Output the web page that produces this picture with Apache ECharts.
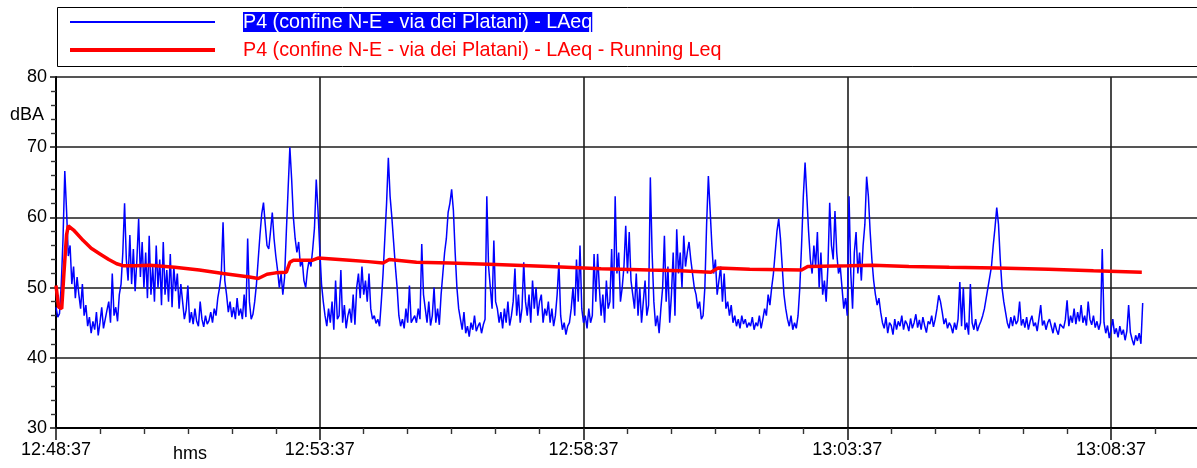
<!DOCTYPE html>
<html>
<head>
<meta charset="utf-8">
<script src="https://cdn.jsdelivr.net/npm/echarts@6/dist/echarts.min.js"></script>
<style>
  html, body { margin: 0; padding: 0; background: #fff; }
  #chart { width: 1197px; height: 468px; }
</style>
</head>
<body>
<div id="chart"></div>
<script>
// Sound level survey, point P4 — start time and sampling step of the LAeq record
const START_CLOCK = [12, 48, 37];
const STEP_SECONDS = 2;

// Short LAeq, dBA, one value every 2 s starting at 12:48:37
const laeq = [
  47.2, 45.8, 46.3, 50.5, 57.0, 66.6, 61.0, 54.5, 56.0, 50.5,
  53.0, 48.5, 51.5, 49.0, 47.0, 50.5, 46.0, 47.5, 44.5, 45.8,
  43.5, 45.2, 44.0, 46.5, 43.2, 45.0, 47.2, 44.2, 45.5, 46.8,
  48.0, 45.0, 52.0, 46.0, 47.2, 45.2, 49.0, 50.5, 55.0, 62.0,
  54.0, 51.0, 57.5, 50.5, 55.5, 49.5, 54.0, 59.8, 51.5, 56.5,
  50.0, 55.0, 48.5, 57.4, 49.0, 53.0, 48.0, 56.0, 50.0, 54.0,
  47.5, 56.5, 49.0, 52.5, 48.0, 54.8, 47.2, 53.0, 49.5, 52.0,
  47.0, 50.5, 48.0, 45.5, 46.8, 50.3, 45.0, 46.5, 44.8, 47.0,
  45.2, 44.5, 48.0, 45.5, 44.4, 46.0, 44.8, 45.3, 46.5, 45.0,
  47.0, 46.0, 48.5, 50.0, 52.0, 59.3, 51.0, 49.0, 46.5, 48.0,
  45.8, 47.2, 45.5, 48.5, 46.0, 47.0, 45.5, 49.0, 45.8, 57.0,
  48.0, 45.5, 46.2, 48.0, 50.5, 54.0, 57.5, 60.5, 62.1, 59.0,
  56.0, 55.5, 58.0, 60.7, 57.0, 54.5, 52.5, 50.0, 52.0, 49.0,
  51.5, 58.0, 64.0, 70.0, 65.5, 60.0, 57.0, 55.0, 56.5, 53.0,
  54.0, 51.0, 50.0, 52.5, 54.0, 53.0, 55.5, 58.5, 65.4, 61.0,
  55.5, 50.5, 48.0, 46.0, 44.5, 47.0, 45.0, 48.0, 44.0, 51.0,
  45.5, 46.0, 52.5, 45.0, 47.5, 44.2, 46.0, 47.0, 45.0, 49.0,
  44.7, 50.0, 52.0, 48.5, 53.0, 49.0, 51.0, 48.0, 52.0, 47.0,
  45.5, 46.0, 44.9, 45.5, 44.5, 48.0, 52.0, 57.0, 62.0, 68.5,
  63.0, 60.0, 56.5, 53.0, 50.0, 46.0, 44.5, 45.5, 44.2, 47.0,
  45.0, 50.3, 45.0, 44.8, 46.0, 45.0, 47.0, 45.5, 56.2, 49.0,
  47.0, 45.0, 48.0, 44.6, 46.0, 50.0, 45.0, 47.0, 44.7, 49.0,
  52.0, 55.0, 57.0, 60.7, 62.0, 64.0, 61.0, 55.0, 50.0, 47.0,
  45.5, 44.0, 46.5, 43.5, 44.5, 43.0, 45.0, 44.0, 46.0, 43.8,
  44.5, 45.0, 43.5, 44.7, 45.5, 63.0, 53.0, 50.0, 47.0, 56.7,
  48.0, 47.0, 45.0, 46.5, 44.2, 47.0, 45.0, 48.0, 44.6, 46.0,
  48.0, 52.7, 46.0, 49.0, 45.0, 47.0, 53.6, 48.0, 46.0, 49.0,
  45.0, 51.0, 47.0, 50.0, 46.0, 48.0, 49.0, 45.0, 47.0, 46.0,
  48.0, 45.0, 47.0, 44.5, 46.0, 49.0, 53.6, 46.0, 44.0, 45.0,
  43.3, 44.5, 45.0, 47.0, 50.0, 46.0, 54.0, 48.0, 56.0, 47.0,
  45.0, 46.0, 44.2, 47.0, 45.0, 46.0, 54.8, 48.0, 54.8, 50.0,
  46.0, 49.0, 45.0, 51.0, 47.0, 48.0, 55.5, 47.0, 63.0, 52.0,
  55.0, 48.0, 50.0, 53.0, 58.8, 52.0, 57.9, 51.0, 49.0, 47.0,
  52.0, 46.0, 50.0, 45.0, 48.0, 51.0, 46.0, 47.5, 65.7, 55.0,
  48.0, 44.5, 46.0, 43.5, 47.0, 50.0, 57.4, 48.0, 53.0, 45.0,
  49.0, 55.0, 46.0, 58.3, 52.0, 55.0, 50.0, 57.4, 53.0, 55.0,
  56.5, 54.0, 52.0, 50.0, 49.0, 47.0, 48.0, 45.5, 46.0, 50.0,
  59.0, 65.9, 61.0, 56.0, 52.0, 54.0, 49.0, 51.0, 53.0, 48.0,
  52.0, 47.0, 48.0, 46.0, 47.5, 45.0, 46.0, 44.5, 45.5, 44.2,
  46.0, 44.8, 45.5, 44.3, 45.0, 44.5, 45.8, 44.0, 45.0, 44.5,
  46.0, 44.2, 45.5, 47.0, 46.0, 49.0, 47.5, 50.0, 52.0, 55.0,
  58.0, 59.8, 57.0, 53.0, 49.0, 47.0, 45.5, 44.5, 46.0, 44.0,
  45.0, 44.2, 46.0, 50.0, 56.0, 63.0, 67.8, 63.0, 58.0, 54.0,
  52.0, 56.0, 53.0, 57.9, 50.0, 55.0, 49.0, 51.0, 48.0, 53.0,
  62.1, 56.0, 54.0, 60.9, 55.0, 52.0, 53.0, 50.0, 47.0, 48.5,
  46.0, 63.0, 52.0, 47.0, 55.0, 57.9, 52.0, 55.0, 51.0, 56.0,
  59.0, 65.8, 63.0, 58.0, 54.0, 51.0, 49.0, 47.5, 48.5, 46.5,
  45.0, 44.2, 45.8, 43.5, 45.0, 44.6, 43.3, 45.5, 44.0, 45.2,
  44.5, 46.0, 44.0, 45.3, 44.8, 43.8, 45.6, 44.2, 45.0, 46.2,
  44.3, 45.4, 44.0, 45.8, 44.6, 43.6, 45.2, 44.8, 46.0, 44.4,
  45.5, 47.0, 48.9, 48.0, 46.5, 44.8, 45.6, 44.2, 45.0, 44.5,
  43.5, 45.0, 44.0, 45.5, 50.8, 44.5, 50.0, 44.0, 45.0, 43.3,
  50.5, 45.0, 44.0, 45.5, 43.8, 44.6, 45.2, 46.0, 47.0, 48.5,
  50.0, 51.5, 53.0, 56.0, 58.5, 61.4, 59.0, 54.0, 50.0, 48.0,
  46.5, 45.0, 44.2, 45.8, 44.5, 46.0, 44.8, 45.3, 48.0, 44.6,
  45.5, 44.3, 45.8, 44.0, 45.2, 46.0, 44.5, 45.0, 43.8, 45.6,
  47.5, 44.6, 45.3, 44.0, 45.0, 45.5, 44.5, 43.5, 45.0, 44.0,
  43.3, 44.8, 45.0, 44.2, 45.4, 48.2, 44.5, 46.0, 45.0, 47.0,
  44.8, 46.5, 45.2, 47.5, 45.0, 46.0, 44.6, 48.0, 45.5, 44.7,
  46.0, 44.3, 45.2, 44.0, 45.0, 55.5, 45.0, 43.5, 44.6, 42.8,
  44.0, 45.5, 43.4, 44.2, 42.9, 44.5, 43.3, 44.0, 42.5, 43.8,
  47.5, 43.6, 42.6, 41.8, 43.2, 42.4, 43.5, 42.0, 47.8
];

// Running Leq: elapsed seconds and level, dBA
const runTimes = [
  0, 3, 6.5, 9, 12, 14, 20, 31, 40, 50, 60, 69, 77, 90, 107, 135, 163, 190,
  220, 230, 240, 250, 262, 266, 270, 292, 298, 310, 334, 355, 372, 379, 410,
  448, 500, 561, 620, 675, 710, 745, 753, 789, 848, 855, 902, 929, 970, 1016,
  1070, 1129, 1180, 1235
];
const runLeq = [
  50.3, 47.2, 47.0, 52.0, 57.5, 58.8, 58.2, 56.7, 55.6, 54.8, 54.0, 53.4, 53.1, 53.1, 53.2, 52.9, 52.5, 52.0,
  51.5, 51.3, 51.9, 52.1, 52.2, 53.6, 53.9, 53.9, 54.2, 54.1, 53.9, 53.7, 53.5, 54.0, 53.6,
  53.5, 53.3, 53.0, 52.7, 52.5, 52.4, 52.2, 52.8, 52.6, 52.5, 53.0, 53.1, 53.2, 53.0, 52.9,
  52.8, 52.6, 52.4, 52.2
];

// Axis settings
const Y_TICKS = [30, 40, 50, 60, 70, 80];
const X_MAJOR = 300;           // one labelled time every 5 minutes
const X_MINOR_SPLIT = 6;       // minor ticks every 50 s
const SERIES_NAMES = [
  'P4 (confine N-E - via dei Platani) - LAeq',
  'P4 (confine N-E - via dei Platani) - LAeq - Running Leq'
];

const FONT = '"Liberation Sans", Arial, Helvetica, sans-serif';

function clockLabel(sec) {
  const base = START_CLOCK[0] * 3600 + START_CLOCK[1] * 60 + START_CLOCK[2];
  const t = base + Math.round(sec);
  const h = Math.floor(t / 3600), m = Math.floor((t % 3600) / 60), s = t % 60;
  const p = n => (n < 10 ? '0' : '') + n;
  return h + ':' + p(m) + ':' + p(s);
}

const laeqData = laeq.map((v, i) => [i * STEP_SECONDS, v]);
const runData = runTimes.map((t, i) => [t, runLeq[i]]);

// Plot geometry: 0.8792 px per second, so the x range runs past the right edge
const PX_PER_S = 0.8792;
const X_MAX = 1500;
const gridLeft = 56, gridTop = 77, gridHeight = 351;
const gridWidth = X_MAX * PX_PER_S;

const chart = echarts.init(document.getElementById('chart'), null, { renderer: 'canvas' });

const gridLine = { color: '#1c1c1c', width: 1.6 };
// legend captions are set slightly narrow
const legendFont = '21px ' + FONT;
const legendScaleX = 0.938;

chart.setOption({
  animation: false,
  backgroundColor: '#ffffff',
  grid: {
    left: gridLeft, top: gridTop, width: gridWidth, height: gridHeight,
    containLabel: false, outerBoundsMode: 'none'
  },
  xAxis: {
    type: 'value',
    min: 0,
    max: X_MAX,
    interval: X_MAJOR,
    axisLine: { show: true, onZero: false, lineStyle: { color: '#000', width: 2 } },
    axisTick: { show: true, length: 12, lineStyle: { color: '#1c1c1c', width: 1.6 } },
    minorTick: { show: true, splitNumber: X_MINOR_SPLIT, length: 6, lineStyle: { color: '#333', width: 1.4 } },
    splitLine: { show: true, lineStyle: gridLine },
    axisLabel: {
      margin: 13, fontSize: 18, color: '#000', fontFamily: FONT,
      showMinLabel: true, showMaxLabel: false,
      formatter: v => (v % X_MAJOR === 0 ? clockLabel(v) : '')
    }
  },
  yAxis: {
    type: 'value',
    min: Y_TICKS[0],
    max: Y_TICKS[Y_TICKS.length - 1],
    interval: 10,
    axisLine: { show: true, lineStyle: { color: '#000', width: 2 } },
    axisTick: { show: true, length: 6, lineStyle: { color: '#1c1c1c', width: 1.6 } },
    minorTick: { show: true, splitNumber: 5, length: 5, lineStyle: { color: '#333', width: 1.4 } },
    splitLine: { show: true, lineStyle: gridLine },
    axisLabel: { margin: 9, fontSize: 18, color: '#000', fontFamily: FONT }
  },
  series: [
    {
      name: SERIES_NAMES[0],
      type: 'line',
      data: laeqData,
      showSymbol: false,
      symbol: 'none',
      lineStyle: { color: '#0000ff', width: 1.5 },
      z: 2
    },
    {
      name: SERIES_NAMES[1],
      type: 'line',
      data: runData,
      showSymbol: false,
      symbol: 'none',
      lineStyle: { color: '#ff0000', width: 3.5 },
      z: 3
    }
  ],
  graphic: [
    // legend frame
    { type: 'rect', left: 57, top: 7, shape: { x: 0, y: 0, width: 1200, height: 59 },
      style: { fill: '#fff', stroke: '#000', lineWidth: 1 }, z: 10 },
    { type: 'line', shape: { x1: 70, y1: 22, x2: 215, y2: 22 },
      style: { stroke: '#0000ff', lineWidth: 2 }, z: 11 },
    { type: 'line', shape: { x1: 70, y1: 50, x2: 215, y2: 50 },
      style: { stroke: '#ff0000', lineWidth: 4 }, z: 11 },
    { type: 'text', x: 243, y: 22, scaleX: legendScaleX, z: 11,
      style: { text: SERIES_NAMES[0], font: legendFont, fill: '#ffffff',
               backgroundColor: '#0000ff', lineHeight: 20, padding: [0, 0],
               verticalAlign: 'middle', align: 'left' } },
    { type: 'text', x: 243, y: 50, scaleX: legendScaleX, z: 11,
      style: { text: SERIES_NAMES[1], font: legendFont, fill: '#ff0000',
               verticalAlign: 'middle', align: 'left' } },
    // unit labels
    { type: 'text', x: 10, y: 115, z: 11,
      style: { text: 'dBA', font: '18px ' + FONT, fill: '#000', verticalAlign: 'middle', align: 'left' } },
    { type: 'text', x: 190, y: 454, z: 11,
      style: { text: 'hms', font: '18px ' + FONT, fill: '#000', verticalAlign: 'middle', align: 'center' } }
  ]
});
</script>
</body>
</html>
